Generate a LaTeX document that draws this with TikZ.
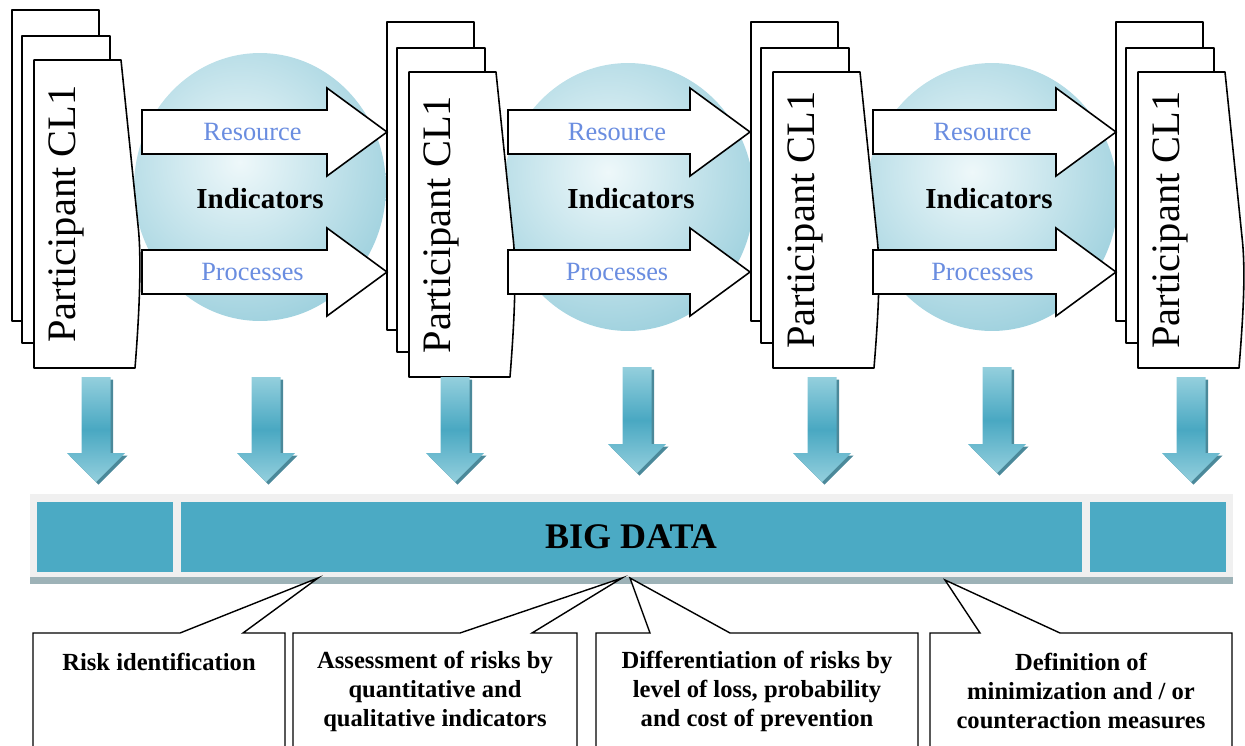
\documentclass[tikz,border=0pt]{standalone}
\usepackage{fontspec}
\setmainfont{Liberation Serif}
\definecolor{bubbleIn}{HTML}{EEF8FA}
\definecolor{bubbleOut}{HTML}{9FD1DE}
\definecolor{tealbar}{HTML}{4BAAC4}
\definecolor{arrowLight}{HTML}{94CFDD}
\definecolor{arrowDark}{HTML}{49A8C2}
\definecolor{arrowShade}{HTML}{2C7488}
\definecolor{labelblue}{HTML}{6A8DE0}
\definecolor{framegray}{HTML}{F0F0F0}
\definecolor{stripgray}{HTML}{9DB2B7}
\tikzset{
  sheet/.style={draw=black, fill=white, line width=0.9pt, line join=round},
  flowarrow/.style={draw=black, fill=white, line width=0.9pt},
  downarrow/.style={top color=arrowLight, bottom color=arrowLight, middle color=arrowDark},
  partlabel/.style={rotate=90, font=\fontsize{23}{26}\selectfont, inner sep=0pt},
  flowlabel/.style={font=\fontsize{15}{18}\selectfont, text=labelblue, inner sep=0pt},
  indlabel/.style={font=\bfseries\fontsize{16.5}{19}\selectfont, inner sep=0pt},
  bigdatalabel/.style={font=\bfseries\fontsize{20.5}{23}\selectfont, inner sep=0pt},
  callout/.style={draw=black, fill=white, line width=0.8pt, line join=miter},
  calltext/.style={font=\bfseries\fontsize{14}{16.5}\selectfont, align=center, inner sep=0pt}
}

\begin{document}
\begin{tikzpicture}[x=0.02cm, y=-0.02cm]
	\useasboundingbox (0,0) rectangle (1245,745);
	
	\foreach \cx/\cy in {260/187, 628/197, 992/197} {
		\begin{scope}
			\clip (\cx,\cy) ellipse [x radius=2.52cm, y radius=2.68cm];
			\shade[inner color=bubbleIn, outer color=bubbleOut] (\cx-20,\cy-25) circle (3.3cm);
		\end{scope}
	}
	
	\foreach \bx/\t/\bt [count=\i] in {12/10/368, 387/22/377, 751/22/368, 1116/22/368} {
		\draw[sheet] (\bx,\t) rectangle (\bx+87,\bt-47);
		\draw[sheet] (\bx+10,\t+26) rectangle (\bx+98,\bt-25);
		\draw[sheet] (\bx+22,\t+50) -- (\bx+109,\t+50) -- (\bx+126,\t+215)
			.. controls (\bx+130,\t+250) and (\bx+127,\bt-50) .. (\bx+123,\bt) -- (\bx+22,\bt) -- cycle;
		\node[partlabel] (part\i) at (\bx+54,{(\t+50+\bt)/2}) {Participant CL1};
	}
	
	\foreach \sx/\tip/\ix [count=\i] in {142/387/260, 508/750/631, 873/1116/989} {
		\foreach \cy in {132, 272}
			\draw[flowarrow] (\sx,\cy-22) -- (\tip-60,\cy-22) -- (\tip-60,\cy-44) -- (\tip,\cy)
				-- (\tip-60,\cy+44) -- (\tip-60,\cy+22) -- (\sx,\cy+22) -- cycle;
		\node[flowlabel] (res\i) at ({(\sx+\tip-60)/2+18},132) {Resource};
		\node[indlabel] (ind\i) at (\ix,199) {Indicators};
		\node[flowlabel] (proc\i) at ({(\sx+\tip-60)/2+18},272) {Processes};
	}
	
	\foreach \cx/\t/\tip in {96/377/482, 266/377/482, 455/377/482, 637/367/473, 822/377/482, 997/367/473, 1191/377/482} {
		\fill[arrowShade, opacity=0.85, shift={(2.5,2.5)}] (\cx-14.5,\t) -- (\cx+14.5,\t) -- (\cx+14.5,\tip-29) -- (\cx+29,\tip-29)
			-- (\cx,\tip) -- (\cx-29,\tip-29) -- (\cx-14.5,\tip-29) -- cycle;
		\shade[downarrow] (\cx-14.5,\t) -- (\cx+14.5,\t) -- (\cx+14.5,\tip-29) -- (\cx+29,\tip-29)
			-- (\cx,\tip) -- (\cx-29,\tip-29) -- (\cx-14.5,\tip-29) -- cycle;
	}
	
	\fill[framegray] (30,494) rectangle (1233,580);
	\fill[stripgray] (30,577) rectangle (1233,584);
	\fill[tealbar] (37,502) rectangle (173,572);
	\fill[tealbar] (181,502) rectangle (1082,572);
	\fill[tealbar] (1090,502) rectangle (1226,572);
	\node[bigdatalabel] (bigdata) at (631,537) {BIG DATA};
	
	\filldraw[callout] (33,746) -- (33,633) -- (180,633) -- (318,578) -- (243,633) -- (285,633) -- (285,746);
	\filldraw[callout] (293,746) -- (293,633) -- (460,633) -- (622,578) -- (532,633) -- (577,633) -- (577,746);
	\filldraw[callout] (596,746) -- (596,633) -- (650,633) -- (630,578) -- (730,633) -- (918,633) -- (918,746);
	\filldraw[callout] (930,746) -- (930,633) -- (980,633) -- (945,580) -- (1060,633) -- (1232,633) -- (1232,746);
	
	\node[calltext] (risk) at (159,662) {Risk identification};
	\node[calltext] (assess) at (435,691) {Assessment of risks by\\quantitative and\\qualitative indicators};
	\node[calltext] (differ) at (757,691) {Differentiation of risks by\\level of loss, probability\\and cost of prevention};
	\node[calltext] (define) at (1081,691) {Definition of\\minimization and / or\\counteraction measures};
	
\end{tikzpicture}
\end{document}
